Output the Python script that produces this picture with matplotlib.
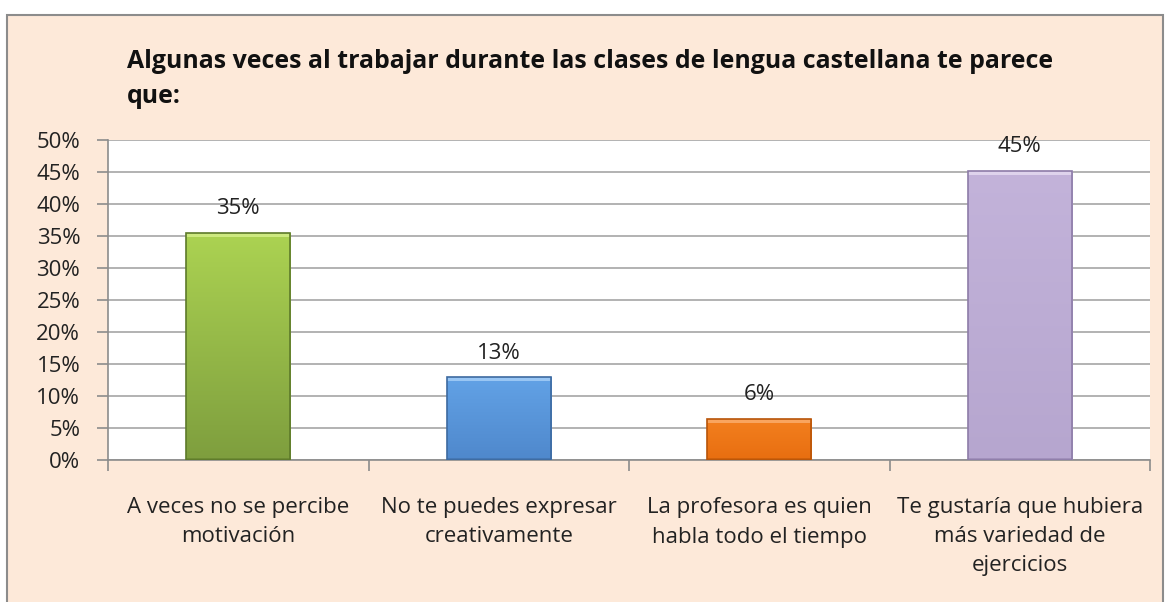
import numpy as np
import matplotlib.pyplot as plt
from matplotlib.colors import LinearSegmentedColormap
from matplotlib.patches import Rectangle

# ── Data ───────────────────────────────────────────────────────────────
categories = [
    "A veces no se percibe\nmotivación",
    "No te puedes expresar\ncreativamente",
    "La profesora es quien\nhabla todo el tiempo",
    "Te gustaría que hubiera\nmás variedad de\nejercicios",
]
values = [0.3548, 0.1290, 0.0645, 0.4516]
value_labels = ["35%", "13%", "6%", "45%"]
yticks = [0, 0.05, 0.10, 0.15, 0.20, 0.25, 0.30, 0.35, 0.40, 0.45, 0.50]
title = "Algunas veces al trabajar durante las clases de lengua castellana te parece\nque:"

# gradient (top, bottom), highlight and edge colour per bar
bar_tops = ["#acd352", "#62a2e6", "#f3801f", "#c3b3da"]
bar_bottoms = ["#7e9e3e", "#4f88cc", "#e86e10", "#b6a6cf"]
bar_lights = ["#d6f08c", "#a8d0f8", "#fbb070", "#e6dcf2"]
bar_edges = ["#5d7a2a", "#3d6aa0", "#b85408", "#8d7ca8"]

plt.rcParams["font.family"] = ["Open Sans", "DejaVu Sans"]

fig = plt.figure(figsize=(11.66, 6.02), dpi=100)
fig.patch.set_facecolor("white")
W, H = 1166, 602

# chart area background + border
fig.patches.append(Rectangle((7 / W, -0.01), 1156 / W, 1.01 - 15 / H, transform=fig.transFigure,
                             facecolor="#fde9d9", edgecolor="#8c8c8c", linewidth=1.5,
                             zorder=-5))

ax = fig.add_axes([108 / W, 1 - 460 / H, (1150 - 108) / W, 320 / H])
ax.set_facecolor("white")

x = np.arange(len(values))
bars = ax.bar(x, values, width=0.4, color="none", edgecolor="none", zorder=3)

for b, top, bot, light, edge in zip(bars, bar_tops, bar_bottoms, bar_lights, bar_edges):
    cmap = LinearSegmentedColormap.from_list("g", [bot, top])
    x0, y0 = b.get_x(), b.get_y()
    w, h = b.get_width(), b.get_height()
    grad = np.linspace(0, 1, 256).reshape(-1, 1)
    im = ax.imshow(grad, cmap=cmap, origin="lower", aspect="auto",
                   extent=[x0, x0 + w, y0, y0 + h], zorder=3)
    im.set_clip_path(b)
    # bevel: light strip along top, darker strip along bottom
    strip = 0.006
    ax.add_patch(Rectangle((x0, y0 + h - strip), w, strip, facecolor=light,
                           edgecolor="none", alpha=0.8, zorder=3.5))
    ax.add_patch(Rectangle((x0, y0), w, strip * 0.6, facecolor=edge,
                           edgecolor="none", alpha=0.5, zorder=3.5))
    ax.add_patch(Rectangle((x0, y0), w, h, facecolor="none", edgecolor=edge,
                           linewidth=1.2, zorder=4))

for xi, v, lab in zip(x, values, value_labels):
    ax.annotate(lab, (xi, v), xytext=(0, 10), textcoords="offset points",
                ha="center", va="bottom", fontsize=16, color="#222222")

ax.set_xlim(-0.5, len(values) - 0.5)
ax.set_ylim(0, 0.5)
ax.set_yticks(yticks)
ax.set_yticklabels([f"{int(round(t * 100))}%" for t in yticks], fontsize=16, color="#222222")
ax.yaxis.grid(True, color="#a6a6a6", linewidth=1.2, zorder=0)
ax.set_axisbelow(True)

# category labels (centered) + boundary tick marks
ax.set_xticks(np.arange(-0.5, len(values), 1.0))
ax.set_xticklabels([])
ax.set_xticks(x, minor=True)
ax.set_xticklabels(categories, minor=True, fontsize=16, color="#222222",
                   linespacing=1.5, va="top")
ax.tick_params(axis="x", which="major", length=8, color="#8c8c8c", width=1.2)
ax.tick_params(axis="x", which="minor", length=0, pad=27)
ax.tick_params(axis="y", length=8, color="#8c8c8c", width=1.2, pad=12)

for s in ["top", "right"]:
    ax.spines[s].set_visible(False)
for s in ["left", "bottom"]:
    ax.spines[s].set_color("#8c8c8c")
    ax.spines[s].set_linewidth(1.2)

fig.text(127 / W, 1 - 49 / H, title, fontsize=17.9, fontweight="bold",
         ha="left", va="top", linespacing=1.55, color="#111111")

fig.savefig("out.png", dpi=100, facecolor=fig.get_facecolor())
